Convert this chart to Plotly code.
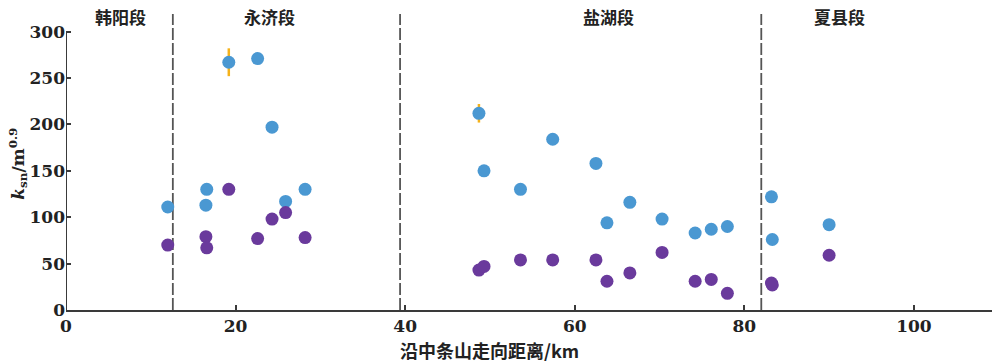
import plotly.graph_objects as go

# --- data ---
blue_x = [12.0, 16.6, 16.5, 19.2, 22.6, 24.3, 25.9, 28.2,
          48.7, 49.3, 53.6, 57.4, 62.5, 63.8, 66.5, 70.3,
          74.2, 76.1, 78.0, 83.2, 83.3, 90.0]
blue_y = [111, 130, 113, 267, 271, 197, 117, 130,
          212, 150, 130, 184, 158, 94, 116, 98,
          83, 87, 90, 122, 76, 92]
blue_err = [1, 1, 1, 15, 1, 6, 1, 1,
            10, 1, 1, 1, 1, 1, 1, 1,
            5, 1, 1, 1, 1, 1]

purple_x = [12.0, 16.5, 16.6, 19.2, 22.6, 24.3, 25.9, 28.2,
            48.7, 49.3, 53.6, 57.4, 62.5, 63.8, 66.5, 70.3,
            74.2, 76.1, 78.0, 83.2, 83.3, 90.0]
purple_y = [70, 79, 67, 130, 77, 98, 105, 78,
            43, 47, 54, 54, 54, 31, 40, 62,
            31, 33, 18, 29, 27, 59]

boundaries = [12.6, 39.4, 82.0]
segment_names = ["韩阳段", "永济段", "盐湖段", "夏县段"]
segment_label_x = [6.4, 24.0, 64.0, 91.2]

x_ticks = [0, 20, 40, 60, 80, 100]
y_ticks = [0, 50, 100, 150, 200, 250, 300]

X_MAX = 109.8
Y_MAX = 319
AXIS_COLOR = "#3a3a3a"
NUM_FONT = dict(family="DejaVu Serif", size=17, color="#222222")
CJK_FONT = dict(family="Noto Sans CJK SC", size=17, color="#222222")

fig = go.Figure()

fig.add_trace(go.Scatter(
    x=blue_x, y=blue_y, mode="markers",
    marker=dict(size=13, color="#4a98d2", line=dict(width=0)),
    error_y=dict(type="data", array=blue_err, visible=True,
                 color="#f5b21a", thickness=2.5, width=0),
    showlegend=False, cliponaxis=False,
))
fig.add_trace(go.Scatter(
    x=purple_x, y=purple_y, mode="markers",
    marker=dict(size=13, color="#6a3a9c", line=dict(width=0)),
    showlegend=False, cliponaxis=False,
))

# dashed segment boundaries
for b in boundaries:
    fig.add_shape(type="line", xref="x", yref="y", x0=b, x1=b, y0=0, y1=Y_MAX,
                  line=dict(color="#555555", width=1.8, dash="12px,3px"), layer="below")

# y-axis line only spanning 0..300
fig.add_shape(type="line", xref="x", yref="y", x0=0, x1=0, y0=0, y1=300,
              line=dict(color=AXIS_COLOR, width=2))

# segment labels
for name, lx in zip(segment_names, segment_label_x):
    fig.add_annotation(x=lx, y=0.993, xref="x", yref="paper", yanchor="middle",
                       text="<b>%s</b>" % name, showarrow=False, font=CJK_FONT)

# axis titles
fig.add_annotation(x=0.455, y=-0.135, xref="paper", yref="paper", yanchor="middle",
                   text="<b>沿中条山走向距离/km</b>", showarrow=False,
                   font=dict(family="Noto Sans CJK SC", size=18, color="#222222"))
fig.add_annotation(x=-0.052, y=0.493, xref="paper", yref="paper", xanchor="center",
                   textangle=-90,
                   text="<b><i>k</i><sub>sn</sub>/m<sup>0.9</sup></b>", showarrow=False,
                   font=dict(family="DejaVu Serif", size=17, color="#222222"))

# the page body adds an 8px offset; margins compensate so the plot area
# lands at x 66..997, y 14..310 in the screenshot
fig.update_layout(
    width=1000, height=361,
    margin=dict(l=58, r=11, t=6, b=59, autoexpand=False),
    plot_bgcolor="white", paper_bgcolor="white",
    xaxis=dict(range=[0, X_MAX], tickvals=x_ticks, ticktext=["<b>%d</b>" % v for v in x_ticks],
               ticks="inside", ticklen=5, tickcolor=AXIS_COLOR, tickwidth=1.5,
               showline=True, linecolor=AXIS_COLOR, linewidth=2, automargin=False,
               showgrid=False, zeroline=False, tickfont=NUM_FONT),
    yaxis=dict(range=[0, Y_MAX], tickvals=y_ticks, ticktext=["<b>%d</b>" % v for v in y_ticks],
               ticks="inside", ticklen=5, tickcolor=AXIS_COLOR, tickwidth=1.5, automargin=False,
               showline=False, showgrid=False, zeroline=False, tickfont=NUM_FONT),
)

fig.write_html("out.html")
